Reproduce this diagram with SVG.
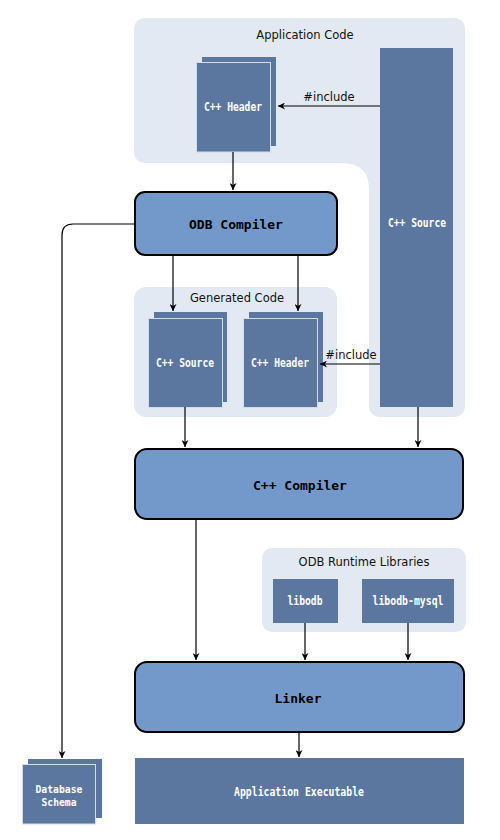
<svg xmlns="http://www.w3.org/2000/svg" width="500" height="840" viewBox="0 0 500 840">
<defs>
<style>
.region{fill:#e2e9f3;stroke:none}
.rlabel{font-family:"DejaVu Sans",sans-serif;font-size:11.5px;fill:#111;text-anchor:middle}
.box{fill:#5b77a0}
.doc{fill:#5b77a0;stroke:#d2dceb;stroke-width:1}
.btxt{font-family:"DejaVu Sans Mono",monospace;font-weight:bold;font-size:11.5px;fill:#fff;text-anchor:middle}
.stxt{font-size:10.5px}
.proc{fill:#7399cb;stroke:#000;stroke-width:2}
.ptxt{font-family:"DejaVu Sans Mono",monospace;font-weight:bold;font-size:13px;fill:#000;text-anchor:middle}
.conn{fill:none;stroke:#000;stroke-width:1.2;marker-end:url(#arr)}
.clabel{font-family:"DejaVu Sans",sans-serif;font-size:11.5px;fill:#111;text-anchor:middle}
</style>
<marker id="arr" viewBox="0 0 10 10" refX="10" refY="5" markerWidth="7" markerHeight="7" markerUnits="userSpaceOnUse" orient="auto">
<path d="M0,0 L10,5 L0,10 L3,5 Z" fill="#000"/>
</marker>
</defs>

<g id="region-app">
<path class="region" d="M146,18 H453 Q465,18 465,30 V405 Q465,417 453,417 H381 Q369,417 369,405 V190 Q369,163 342,163 H146 Q134,163 134,151 V30 Q134,18 146,18 Z"/>
<text class="rlabel" x="305" y="39">Application Code</text>
</g>

<g id="region-gen">
<rect class="region" x="134" y="287" width="203" height="130" rx="12"/>
<text class="rlabel" x="237" y="302">Generated Code</text>
</g>

<g id="region-rt">
<rect class="region" x="262" y="548" width="204" height="84" rx="10"/>
<text class="rlabel" x="364" y="566">ODB Runtime Libraries</text>
</g>

<g id="app-header">
<rect class="box" x="202" y="57" width="74" height="89"/>
<rect class="doc" x="196.5" y="62.5" width="74" height="89.5"/>
<text class="btxt" x="233" y="111" textLength="58" lengthAdjust="spacingAndGlyphs">C++ Header</text>
</g>

<g id="app-source">
<rect class="box" x="380" y="48" width="73" height="359"/>
<text class="btxt" x="417" y="227" textLength="58" lengthAdjust="spacingAndGlyphs">C++ Source</text>
</g>

<g id="odb-compiler">
<rect class="proc" x="135" y="192" width="202" height="63" rx="10"/>
<text class="ptxt" x="236" y="228.5">ODB Compiler</text>
</g>

<g id="gen-source">
<rect class="box" x="154" y="312" width="73" height="90"/>
<rect class="doc" x="148.5" y="318.5" width="74" height="89"/>
<text class="btxt" x="185" y="367" textLength="58" lengthAdjust="spacingAndGlyphs">C++ Source</text>
</g>

<g id="gen-header">
<rect class="box" x="249" y="312" width="74" height="90"/>
<rect class="doc" x="243.5" y="318.5" width="74" height="89"/>
<text class="btxt" x="280" y="367" textLength="58" lengthAdjust="spacingAndGlyphs">C++ Header</text>
</g>

<g id="cpp-compiler">
<rect class="proc" x="135" y="449" width="328" height="70" rx="12"/>
<text class="ptxt" x="300" y="489.5">C++ Compiler</text>
</g>

<g id="libodb">
<rect class="box" x="273" y="579" width="65" height="44"/>
<text class="btxt" x="305" y="604.5" textLength="35" lengthAdjust="spacingAndGlyphs">libodb</text>
</g>

<g id="libodb-mysql">
<rect class="box" x="362" y="579" width="92" height="44"/>
<text class="btxt" x="408" y="604.5" textLength="71" lengthAdjust="spacingAndGlyphs">libodb-mysql</text>
</g>

<g id="linker">
<rect class="proc" x="135" y="662" width="329" height="70" rx="12"/>
<text class="ptxt" x="298" y="702.5">Linker</text>
</g>

<g id="app-exe">
<rect class="box" x="135" y="758" width="329" height="66"/>
<text class="btxt" x="299" y="796" textLength="130" lengthAdjust="spacingAndGlyphs">Application Executable</text>
</g>

<g id="db-schema">
<rect class="box" x="28" y="759" width="74" height="59"/>
<rect class="doc" x="22.5" y="764.5" width="73" height="59.5"/>
<text class="btxt stxt" x="59" y="793" textLength="47" lengthAdjust="spacingAndGlyphs">Database</text>
<text class="btxt stxt" x="59" y="805.5" textLength="35" lengthAdjust="spacingAndGlyphs">Schema</text>
</g>

<g id="connectors">
<path class="conn" d="M380,106 H278"/>
<text class="clabel" x="329" y="101">#include</text>
<path class="conn" d="M233,152 V190"/>
<path class="conn" d="M173,255 V311"/>
<path class="conn" d="M298,255 V311"/>
<path class="conn" d="M380,364 H320"/>
<text class="clabel" x="351" y="359">#include</text>
<path class="conn" d="M185,407 V447"/>
<path class="conn" d="M418,407 V447"/>
<path class="conn" d="M196,519 V660"/>
<path class="conn" d="M305,623 V660"/>
<path class="conn" d="M408,623 V660"/>
<path class="conn" d="M299,732 V757"/>
<path class="conn" d="M134,224 H73 Q62,224 62,235 V758"/>
</g>
</svg>
